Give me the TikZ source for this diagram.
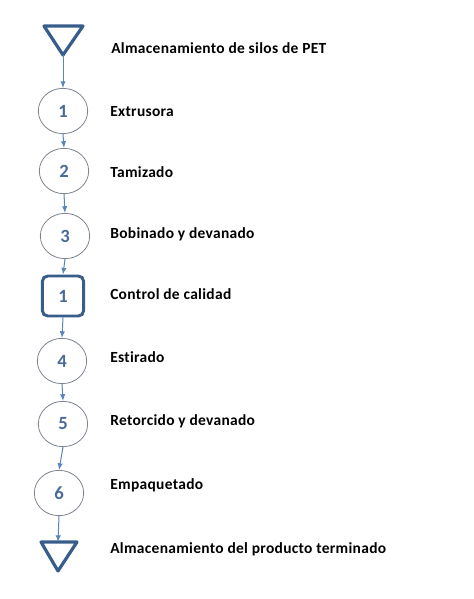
\documentclass[tikz,border=0pt]{standalone}
\usepackage{fontspec}
\setmainfont{Carlito}[Ligatures=NoCommon]
\usepackage{tikz}
\usetikzlibrary{shapes.geometric,arrows.meta}

\definecolor{azuloscuro}{HTML}{385D8A}
\definecolor{azulnum}{HTML}{4A6A98}
\definecolor{azulflecha}{HTML}{5B84B8}
\definecolor{grisborde}{HTML}{7F8590}

\tikzset{
  operacion/.style={ellipse, draw=grisborde, line width=0.6pt, minimum width=37pt, minimum height=34pt, inner sep=0pt, font=\fontsize{14}{16}\bfseries\selectfont, text=azulnum},
  inspeccion/.style={rectangle, rounded corners=4pt, draw=azuloscuro, line width=2.2pt, minimum width=31pt, minimum height=30pt, inner sep=0pt, font=\fontsize{14}{16}\bfseries\selectfont, text=azulnum},
  almacen/.style={draw=azuloscuro, line width=2.4pt, line join=round},
  flecha/.style={draw=azulflecha, line width=0.75pt, -{Latex[length=5pt,width=4pt]}},
  etiqueta/.style={anchor=base west, font=\fontsize{11.6}{13}\bfseries\addfontfeature{LetterSpace=2}\selectfont, inner sep=0pt}
}

\begin{document}
\begin{tikzpicture}[x=0.75pt, y=-0.75pt]
\useasboundingbox (0,0) rectangle (474,599);

% Define coordinates for easier positioning
\coordinate (A1a) at (44,26);
\coordinate (A1b) at (83,26);
\coordinate (A1) at (63,55);
\coordinate (A2a) at (41,542);
\coordinate (A2b) at (77,542);
\coordinate (A2c) at (58,571);
\coordinate (A2) at (58,542);

% Draw the storage triangles
\draw[almacen] (A1a) -- (A1b) -- (A1) -- cycle;
\draw[almacen] (A2a) -- (A2b) -- (A2c) -- cycle;

% Draw the operations and the inspection
\node[operacion] (op1) at (63,111) {1};
\node[operacion] (op2) at (64,171) {2};
\node[operacion] (op3) at (65,236) {3};
\node[inspeccion] (in1) at (63,296) {1};
\node[operacion] (op4) at (62,361) {4};
\node[operacion] (op5) at (63,424) {5};
\node[operacion] (op6) at (59,493) {6};

% Draw the arrows
\draw[flecha] (A1) -- (op1.north);
\draw[flecha] (op1.south) -- (op2.north);
\draw[flecha] (op2.south) -- (op3.north);
\draw[flecha] (op3.south) -- (in1.north);
\draw[flecha] (in1.south) -- (op4.north);
\draw[flecha] (op4.south) -- (op5.north);
\draw[flecha] (op5.south) -- (op6.north);
\draw[flecha] (op6.south) -- (A2);

% Add labels
\node[etiqueta] (t0) at (111,54) {Almacenamiento de silos de PET};
\node[etiqueta] (t1) at (110,117) {Extrusora};
\node[etiqueta] (t2) at (110,177) {Tamizado};
\node[etiqueta] (t3) at (110,238) {Bobinado y devanado};
\node[etiqueta] (t4) at (110,299) {Control de calidad};
\node[etiqueta] (t5) at (110,362) {Estirado};
\node[etiqueta] (t6) at (110,425) {Retorcido y devanado};
\node[etiqueta] (t7) at (110,489) {Empaquetado};
\node[etiqueta] (t8) at (110,553) {Almacenamiento del producto terminado};
\end{tikzpicture}
\end{document}
